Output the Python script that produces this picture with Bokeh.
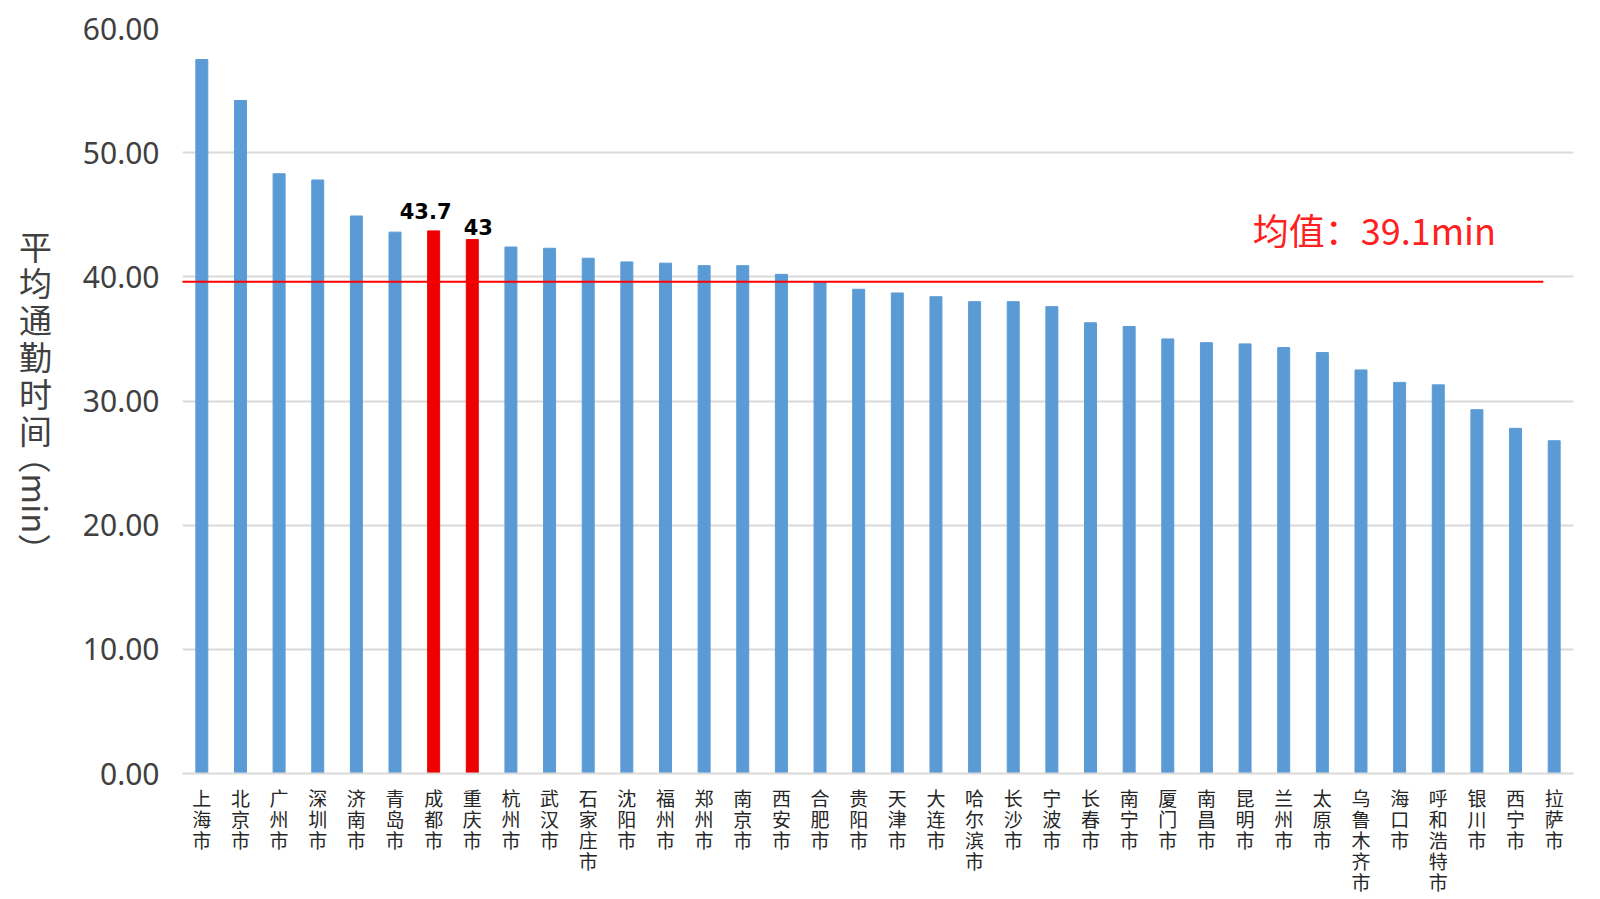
import math
from bokeh.plotting import figure
from bokeh.layouts import row
from bokeh.models import ColumnDataSource, FixedTicker, Label, Range1d, PrintfTickFormatter
from bokeh.core.properties import value
from bokeh.embed import file_html
from bokeh.resources import INLINE

# ---------------- data ----------------
cities = ["上海市", "北京市", "广州市", "深圳市", "济南市", "青岛市", "成都市", "重庆市",
          "杭州市", "武汉市", "石家庄市", "沈阳市", "福州市", "郑州市", "南京市", "西安市",
          "合肥市", "贵阳市", "天津市", "大连市", "哈尔滨市", "长沙市", "宁波市", "长春市",
          "南宁市", "厦门市", "南昌市", "昆明市", "兰州市", "太原市", "乌鲁木齐市", "海口市",
          "呼和浩特市", "银川市", "西宁市", "拉萨市"]
commute_minutes = [57.5, 54.2, 48.3, 47.8, 44.9, 43.6, 43.7, 43.0,
                   42.4, 42.3, 41.5, 41.2, 41.1, 40.9, 40.9, 40.2,
                   39.6, 39.0, 38.7, 38.4, 38.0, 38.0, 37.6, 36.3,
                   36.0, 35.0, 34.7, 34.6, 34.3, 33.9, 32.5, 31.5,
                   31.3, 29.3, 27.8, 26.8]
highlight_cities = ["成都市", "重庆市"]
highlight_texts = ["43.7", "43"]
mean_text = "均值：39.1min"
mean_line_level = 39.6
y_ticks = [0, 10, 20, 30, 40, 50, 60]
y_title_upright = ["平", "均", "通", "勤", "时", "间"]
y_title_rotated = "（min）"

# ---------------- styles ----------------
BLUE = "#5B9BD5"
RED = "#EE0000"
GRID = "#D9D9D9"
TXT = "#404040"
CJK = "Noto Sans CJK SC"

W, H = 1600, 899
TITLE_W = 60
FRAME_TOP, FRAME_BOTTOM = 28, 773

n = len(cities)
xs = [i + 0.5 for i in range(n)]
colors = [RED if c in highlight_cities else BLUE for c in cities]
src = ColumnDataSource(dict(x=xs, top=commute_minutes, color=colors, city=cities))

p = figure(width=W - TITLE_W, height=H, x_range=Range1d(0, n), y_range=Range1d(0, 60),
           output_backend="svg", toolbar_location=None,
           min_border_left=182 - TITLE_W, min_border_right=27, min_border_top=FRAME_TOP,
           min_border_bottom=H - FRAME_BOTTOM)
p.outline_line_color = None
p.background_fill_color = "white"

p.vbar(x="x", top="top", width=0.31, fill_color="color", line_color="color",
       line_width=1, source=src)

# grid
p.xgrid.grid_line_color = None
p.ygrid.grid_line_color = GRID
p.ygrid.grid_line_width = 2
p.ygrid.ticker = FixedTicker(ticks=y_ticks)

# y axis
p.yaxis.ticker = FixedTicker(ticks=y_ticks)
p.yaxis.formatter = PrintfTickFormatter(format="%.2f")
p.yaxis.axis_line_color = None
p.yaxis.major_tick_line_color = None
p.yaxis.minor_tick_line_color = None
p.yaxis.major_label_standoff = 17
p.yaxis.major_label_text_font = "Noto Sans"
p.yaxis.major_label_text_font_size = "30px"
p.yaxis.major_label_text_color = TXT

# x axis
p.xaxis.ticker = FixedTicker(ticks=xs)
p.xaxis.major_label_overrides = {x: "\n".join(list(c)) for x, c in zip(xs, cities)}
p.xaxis.axis_line_color = GRID
p.xaxis.axis_line_width = 2
p.xaxis.major_tick_line_color = None
p.xaxis.minor_tick_line_color = None
p.xaxis.major_label_standoff = 4
p.xaxis.major_label_text_font = CJK
p.xaxis.major_label_text_font_size = "19px"
p.xaxis.major_label_text_line_height = 0.78
p.xaxis.major_label_text_color = "#262626"

# mean line
p.segment(x0=[-0.2], y0=[mean_line_level], x1=[n - 0.78], y1=[mean_line_level],
          line_color="#FF0000", line_width=2)
p.add_layout(Label(x=27.7, y=43.85, text=mean_text, text_color="#FF2020",
                   text_font=CJK, text_font_size="36px", text_baseline="middle",
                   text_align="left"))

# highlight value labels
hx, hy = [], []
for c in highlight_cities:
    i = cities.index(c)
    hx.append(xs[i])
    hy.append(commute_minutes[i])
lab_src = ColumnDataSource(dict(x=hx, y=hy, text=highlight_texts, xo=[-8, 6], yo=[-20, -13]))
p.text(x="x", y="y", text="text", x_offset="xo", y_offset="yo", source=lab_src,
       text_align="center", text_baseline="alphabetic",
       text_font=value("DejaVu Sans"), text_font_style="bold",
       text_font_size="21px", text_color="black")

# ---------------- y-axis title panel ----------------
# this figure's frame is aligned with the main frame (FRAME_TOP..FRAME_BOTTOM),
# so its y range is set to make data y = H - page y
t = figure(width=TITLE_W, height=H, x_range=Range1d(0, TITLE_W),
           y_range=Range1d(H - FRAME_BOTTOM, H - FRAME_TOP),
           output_backend="svg", toolbar_location=None, x_axis_type=None, y_axis_type=None,
           min_border_left=0, min_border_right=0, min_border_top=FRAME_TOP,
           min_border_bottom=H - FRAME_BOTTOM)
t.outline_line_color = None
t.xgrid.grid_line_color = None
t.ygrid.grid_line_color = None
t.text(x=[35] * len(y_title_upright),
       y=[H - (245 + 36.8 * k) for k in range(len(y_title_upright))],
       text=y_title_upright, text_font=value(CJK), text_font_size="33px",
       text_color=TXT, text_align="center", text_baseline="middle")
t.text(x=[35], y=[H - 503], text=[y_title_rotated], angle=-math.pi / 2,
       text_font=value(CJK), text_font_size="33px", text_color=TXT,
       text_align="center", text_baseline="middle")

layout = row(t, p, spacing=0)
open("out.html", "w").write(file_html(layout, INLINE))
